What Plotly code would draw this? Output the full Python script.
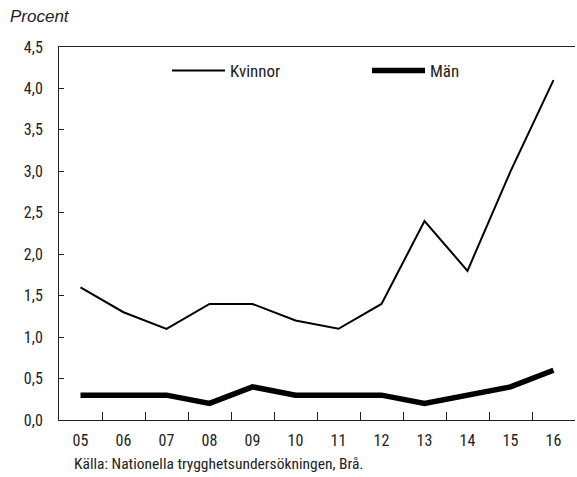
import plotly.graph_objects as go

years = ["05", "06", "07", "08", "09", "10", "11", "12", "13", "14", "15", "16"]
kvinnor = [1.6, 1.3, 1.1, 1.4, 1.4, 1.2, 1.1, 1.4, 2.4, 1.8, 3.0, 4.1]
man = [0.3, 0.3, 0.3, 0.2, 0.4, 0.3, 0.3, 0.3, 0.2, 0.3, 0.4, 0.6]
yticks = [0, 0.5, 1, 1.5, 2, 2.5, 3, 3.5, 4, 4.5]

FONT = "Roboto Condensed, Liberation Sans Narrow, sans-serif"
W, H = 577, 477
ML, MR, MT, MB = 59, 2, 47, 57
PW, PH = W - ML - MR, H - MT - MB
xpos = list(range(len(years)))

fig = go.Figure()
fig.add_trace(go.Scatter(x=xpos, y=kvinnor, mode="lines", name="Kvinnor",
                         line=dict(color="black", width=2)))
fig.add_trace(go.Scatter(x=xpos, y=man, mode="lines", name="Män",
                         line=dict(color="black", width=5.5)))

fig.update_layout(
    width=W, height=H,
    margin=dict(l=ML, r=MR, t=MT, b=MB, autoexpand=False),
    paper_bgcolor="white", plot_bgcolor="white",
    separators=",.",
    font=dict(family=FONT, size=16, color="#222"),
    showlegend=True,
    legend=dict(orientation="h", x=(167 - ML) / PW, y=(H - MB - 71) / PH,
                xanchor="left", yanchor="middle",
                font=dict(family=FONT, size=17, color="#222"),
                itemwidth=53,
                entrywidth=132, entrywidthmode="pixels",
                bgcolor="rgba(0,0,0,0)"),
    xaxis=dict(range=[-0.5, 11.5], tickmode="array", tickvals=xpos, ticktext=years,
               ticks="", showgrid=False, zeroline=False,
               showline=True, linecolor="#222", linewidth=1, mirror=True,
               ticklabelstandoff=6,
               tickfont=dict(family=FONT, size=16, color="#222"),
               minor=dict(tickmode="array", tickvals=[i + 0.5 for i in range(11)],
                          ticks="inside", ticklen=8, tickcolor="#222", tickwidth=1,
                          showgrid=False)),
    yaxis=dict(range=[0, 4.5], tickmode="array", tickvals=yticks, tickformat=".1f",
               ticks="inside", ticklen=5, tickcolor="#222",
               showgrid=False, zeroline=False,
               showline=True, linecolor="#222", linewidth=1,
               ticklabelstandoff=12,
               tickfont=dict(family=FONT, size=16, color="#222")),
    annotations=[
        dict(text="<i>Procent</i>", xref="paper", yref="paper",
             x=(8 - ML) / PW, y=(H - MB - 17) / PH,
             showarrow=False, xanchor="left", yanchor="middle",
             font=dict(family="Liberation Sans, Arial, sans-serif", size=17, color="#222")),
        dict(text="Källa: Nationella trygghetsundersökningen, Brå.", xref="paper", yref="paper",
             x=(72 - ML) / PW, y=(H - MB - 464) / PH,
             showarrow=False, xanchor="left", yanchor="middle",
             font=dict(family=FONT, size=15.5, color="#222")),
    ],
)

fig.write_html("out.html", config={"displayModeBar": False},
               post_script="document.body.style.margin='0';")
